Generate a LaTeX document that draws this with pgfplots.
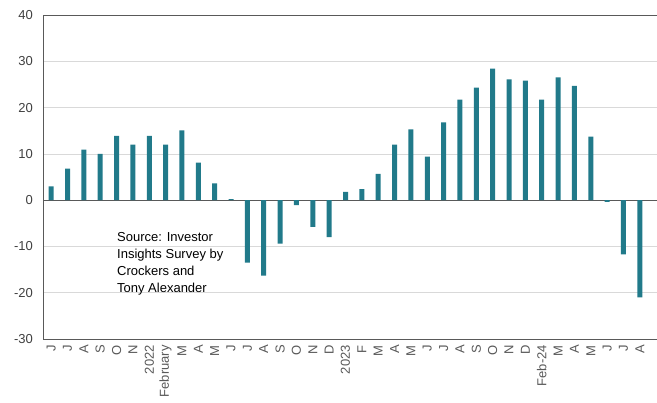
\documentclass[border=0pt]{standalone}
\usepackage{pgfplots}
\pgfplotsset{compat=1.18}
\usepackage{fontspec}
\setmainfont{Liberation Sans}
\definecolor{barc}{RGB}{33,122,138}
\definecolor{axc}{RGB}{89,89,89}
\definecolor{gridc}{RGB}{217,217,217}
\definecolor{txt}{RGB}{64,64,64}
\begin{document}
\begin{tikzpicture}
\begin{axis}[
  scale only axis,
  width=614pt, height=324pt,
  xmin=-0.5, xmax=37.05,
  ymin=-30, ymax=40,
  ytick={-30,-20,...,40},
  xtick=data,
  xticklabels={J,J,A,S,O,N,2022,February,M,A,M,J,J,A,S,O,N,D,2023,F,M,A,M,J,J,A,S,O,N,D,Feb-24,M,A,M,J,J,A},
  x tick label style={rotate=90, anchor=east, font=\fontsize{13}{13}\selectfont, text=axc, inner sep=0pt, xshift=-6pt},
  y tick label style={font=\fontsize{13}{13}\selectfont, text=txt, inner sep=0pt, xshift=-10pt},
  /pgf/number format/assume math mode=true,
  major tick length=0pt,
  axis x line=box,
  axis y line*=left,
  axis line style={color=axc, line width=0.9pt},
  ymajorgrids,
  major grid style={color=gridc, line width=0.7pt},
  extra y ticks={0},
  extra y tick labels={},
  extra y tick style={grid=major, major grid style={color=axc, line width=0.9pt}},
  ybar, bar width=5pt, bar shift=0pt,
  clip=false,
]
\addplot[fill=barc, draw=none] coordinates {
(0,3.0) (1,6.8) (2,10.9) (3,10.0) (4,13.9) (5,12.0) (6,13.9) (7,12.0) (8,15.1) (9,8.1)
(10,3.6) (11,0.2) (12,-13.5) (13,-16.3) (14,-9.4) (15,-1.1) (16,-5.8) (17,-8.0)
(18,1.8) (19,2.4) (20,5.7) (21,12.0) (22,15.3) (23,9.4) (24,16.8) (25,21.7) (26,24.3)
(27,28.4) (28,26.1) (29,25.8) (30,21.7) (31,26.5) (32,24.7) (33,13.7) (34,-0.4)
(35,-11.7) (36,-21.0)
};
\node[anchor=north west, align=left, inner sep=0pt, font=\fontsize{13}{17}\selectfont, text=black]
  at (rel axis cs:0.1205,0.33) {Source: Investor\\Insights Survey by\\Crockers and\\Tony Alexander};
\end{axis}
\pgfresetboundingbox
\path[use as bounding box] ([xshift=-43pt,yshift=-64pt]current axis.south west) rectangle ([yshift=15pt]current axis.north east);
\end{tikzpicture}
\end{document}
